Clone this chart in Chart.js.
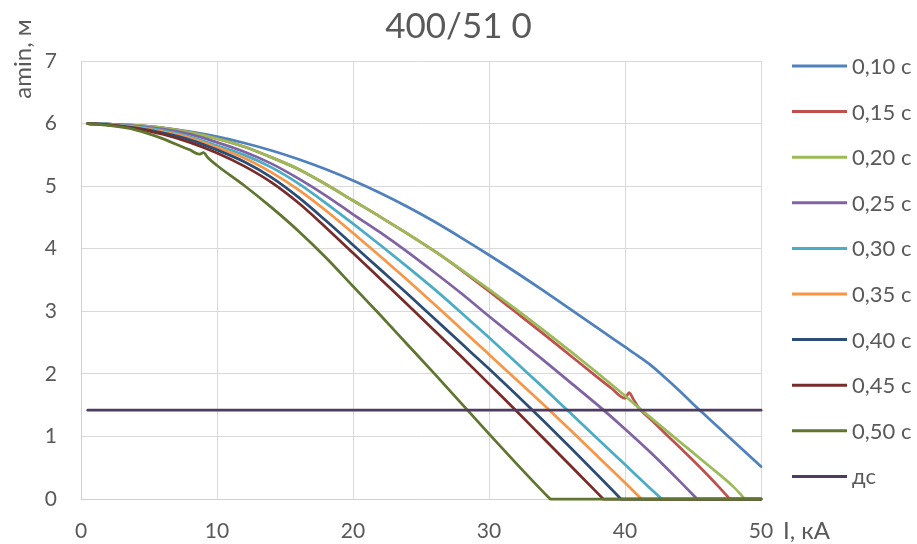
<!DOCTYPE html>
<html><head><meta charset="utf-8">
<script src="https://cdn.jsdelivr.net/npm/chart.js@4/dist/chart.umd.min.js"></script>
<style>html,body{margin:0;padding:0;background:#fff;}#wrap{width:917px;height:544px;}</style>
</head><body><div id="wrap"><canvas id="c" width="917" height="544"></canvas></div>
<script>
const chartTitle = '400/51 0';
const yTitle = 'amin, м';
const xTitle = 'I, кА';
const seriesLabels = ['0,10 с','0,15 с','0,20 с','0,25 с','0,30 с','0,35 с','0,40 с','0,45 с','0,50 с','дс'];
const seriesColors = ['#4F81BD','#C0504D','#9BBB59','#8064A2','#4BACC6','#F79646','#2C4D75','#772C2A','#5F7530','#4D3B62'];
const xTicks = [0,10,20,30,40,50];
const yTicks = [0,1,2,3,4,5,6,7];

const gridI = [0.5,2,4,6,8,10,12,14,16,18,20,22,24,26,28,30,32,34,36,38];

// null = break between the falling part and the flat zero part (sharp corner)
const I_010 = [...gridI,40,41,42,43,44,45,46,47,48,49,50];
const A_010 = [6.00,5.99,5.97,5.93,5.87,5.79,5.69,5.57,5.43,5.27,5.09,4.89,4.67,4.43,4.17,3.90,3.62,3.33,3.03,2.73,2.43,2.28,2.12,1.93,1.73,1.52,1.32,1.12,0.92,0.72,0.52];

const I_015 = [...gridI,39,40,40.3,40.6,41,42,43,44,45,46,47,47.7,47.7,47.7,50];
const A_015 = [6.00,5.99,5.97,5.93,5.86,5.76,5.63,5.46,5.27,5.03,4.77,4.51,4.24,3.96,3.65,3.32,2.98,2.64,2.29,1.94,1.77,1.61,1.70,1.60,1.46,1.25,1.04,0.83,0.62,0.40,0.17,0,null,0,0];

const I_020 = [...gridI,39,40,41,42,44,46,48,48.8,48.8,48.8,50];
const A_020 = [6.00,5.99,5.97,5.93,5.86,5.76,5.63,5.46,5.27,5.03,4.77,4.51,4.24,3.96,3.66,3.35,3.03,2.70,2.36,2.01,1.83,1.65,1.46,1.28,0.92,0.56,0.19,0,null,0,0];

const I_025 = [...gridI,40,42,44,45.3,45.3,45.3,50];
const A_025 = [6.00,5.99,5.96,5.91,5.83,5.70,5.55,5.36,5.12,4.85,4.55,4.26,3.95,3.62,3.28,2.92,2.57,2.22,1.86,1.50,1.12,0.72,0.29,0,null,0,0];

const I_030 = [...gridI,40,42,42.7,42.7,42.7,50];
const A_030 = [6.00,5.99,5.95,5.89,5.79,5.65,5.50,5.30,5.04,4.73,4.40,4.06,3.71,3.35,2.97,2.58,2.18,1.78,1.37,0.96,0.55,0.14,0,null,0,0];

const I_035 = [...gridI,40,41.2,41.2,41.2,50];
const A_035 = [6.00,5.98,5.94,5.87,5.77,5.62,5.45,5.22,4.94,4.61,4.25,3.88,3.50,3.11,2.71,2.31,1.91,1.51,1.10,0.68,0.26,0,null,0,0];

const I_040 = [...gridI,39.7,39.7,39.7,50];
const A_040 = [6.00,5.98,5.93,5.85,5.74,5.58,5.39,5.14,4.82,4.45,4.06,3.67,3.28,2.88,2.48,2.08,1.67,1.25,0.82,0.38,0,null,0,0];

const I_045 = [...gridI,38.4,38.4,38.4,50];
const A_045 = [6.00,5.98,5.92,5.83,5.70,5.53,5.32,5.06,4.73,4.34,3.93,3.52,3.11,2.69,2.27,1.84,1.41,0.97,0.53,0.09,0,null,0,0];

const I_050 = [0.5,2,4,6,7.3,8,8.7,9.0,9.35,10,12,14,16,18,20,22,24,26,28,30,32,34,34.5,34.5,34.5,50];
const A_050 = [6.00,5.97,5.90,5.76,5.64,5.58,5.51,5.535,5.45,5.33,5.01,4.66,4.28,3.86,3.40,2.94,2.47,2.00,1.52,1.04,0.57,0.11,0,null,0,0];

const I_dc = [0.5,50];
const A_dc = [1.42,1.42];

const seriesI = [I_010,I_015,I_020,I_025,I_030,I_035,I_040,I_045,I_050,I_dc];
const seriesA = [A_010,A_015,A_020,A_025,A_030,A_035,A_040,A_045,A_050,A_dc];

const FONT = 'Lato, "Open Sans", sans-serif';
const TXT = '#595959';

const datasets = seriesLabels.map((lab, i) => ({
  label: lab,
  data: seriesI[i].map((x, k) => ({x: x, y: seriesA[i][k]})),
  borderColor: seriesColors[i],
  backgroundColor: seriesColors[i],
  borderWidth: 2.75,
  borderCapStyle: 'round',
  borderJoinStyle: 'round',
  pointRadius: 0,
  cubicInterpolationMode: 'monotone',
  spanGaps: false,
  fill: false,
  clip: 6,
  order: seriesLabels.length - i
}));

const extras = {
  id: 'extras',
  afterDraw(chart) {
    const ctx = chart.ctx;
    const area = chart.chartArea;
    ctx.save();
    ctx.fillStyle = TXT;
    ctx.font = '24px ' + FONT;
    ctx.textAlign = 'center';
    ctx.textBaseline = 'middle';
    ctx.translate(23, 59);
    ctx.rotate(-Math.PI / 2);
    ctx.fillText(yTitle, 0, 0);
    ctx.restore();

    ctx.save();
    ctx.fillStyle = TXT;
    ctx.font = '24px ' + FONT;
    ctx.textAlign = 'left';
    ctx.textBaseline = 'middle';
    ctx.fillText(xTitle, area.right + 22, area.bottom + 32);
    ctx.restore();

    ctx.save();
    ctx.font = '22px ' + FONT;
    ctx.textAlign = 'left';
    ctx.textBaseline = 'middle';
    chart.data.datasets.forEach((ds, i) => {
      const y = 66 + i * 45.6;
      ctx.strokeStyle = ds.borderColor;
      ctx.lineWidth = 3;
      ctx.beginPath();
      ctx.moveTo(792, y);
      ctx.lineTo(847, y);
      ctx.stroke();
      ctx.fillStyle = TXT;
      ctx.fillText(ds.label, 852, y + 1);
    });
    ctx.restore();
  }
};

new Chart(document.getElementById('c'), {
  type: 'line',
  data: { datasets: datasets },
  plugins: [extras],
  options: {
    responsive: false,
    animation: false,
    devicePixelRatio: 1,
    layout: { padding: 0 },
    plugins: {
      legend: { display: false },
      tooltip: { enabled: false },
      title: {
        display: true,
        text: chartTitle,
        color: TXT,
        font: { family: FONT, size: 35, weight: 'normal' },
        padding: { top: 6, bottom: 13 }
      }
    },
    scales: {
      x: {
        type: 'linear',
        min: 0, max: 50,
        afterBuildTicks: (s) => { s.ticks = xTicks.map(v => ({value: v})); },
        afterFit: (s) => { s.height = 45; },
        grid: { color: '#D9D9D9', lineWidth: 1, drawTicks: false },
        border: { color: '#D0D0D0', width: 1 },
        ticks: { color: TXT, font: { family: FONT, size: 21 }, padding: 20, maxRotation: 0 }
      },
      y: {
        type: 'linear',
        position: 'left',
        min: 0, max: 7,
        afterBuildTicks: (s) => { s.ticks = yTicks.map(v => ({value: v})); },
        afterFit: (s) => { s.width = 81; },
        grid: { color: '#D9D9D9', lineWidth: 1, drawTicks: false },
        border: { color: '#D0D0D0', width: 1 },
        ticks: { color: TXT, font: { family: FONT, size: 21 }, padding: 24 }
      },
      legendSpace: {
        type: 'linear',
        position: 'right',
        min: 0, max: 1,
        afterFit: (s) => { s.width = 156; },
        grid: { display: false, drawTicks: false },
        border: { display: false },
        ticks: { display: false }
      }
    }
  }
});
</script>
</body></html>
